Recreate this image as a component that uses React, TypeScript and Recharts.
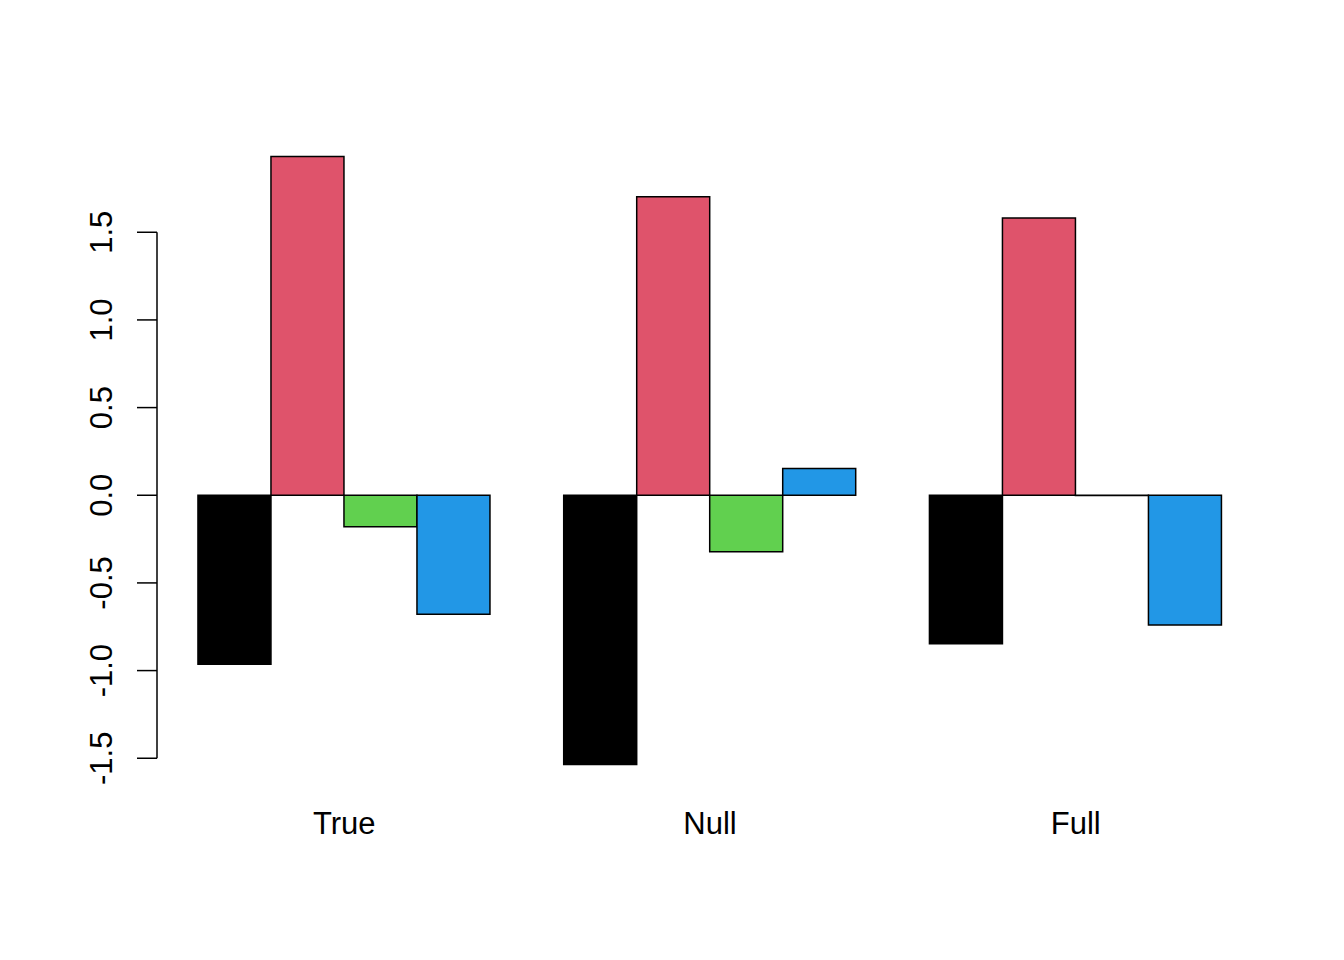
import React from 'react';
import { BarChart, Bar, XAxis, YAxis } from 'recharts';

const categories = ['True', 'Null', 'Full'];
const series1 = [-0.964, -1.535, -0.847];
const series2 = [1.932, 1.703, 1.582];
const series3 = [-0.179, -0.322, -0.002];
const series4 = [-0.679, 0.152, -0.74];
const yTicks = [-1.5, -1.0, -0.5, 0.0, 0.5, 1.0, 1.5];

const colors = ['#000000', '#DF536B', '#61D04F', '#2297E6'];

const data = categories.map((c, i) => ({
  name: c,
  s1: series1[i],
  s2: series2[i],
  s3: series3[i],
  s4: series4[i],
}));

const allVals = [...series1, ...series2, ...series3, ...series4];
const vMin = Math.min(...allVals);
const vMax = Math.max(...allVals);
const ext = (vMax - vMin) * 0.04;
const domain: [number, number] = [vMin - ext, vMax + ext];

const W = 1344;
const H = 960;
const PLOT_LEFT = 157;
const PLOT_RIGHT = 1263;
const PLOT_TOP = 132.2;
const PLOT_BOTTOM = 788.7;
const XAXIS_H = 40;
const PLOT_H = PLOT_BOTTOM - PLOT_TOP;
const PX_PER_UNIT = PLOT_H / (domain[1] - domain[0]);
const PLOT_W = PLOT_RIGHT - PLOT_LEFT;
const UNIT_W = PLOT_W / 15.12; // 15 bar-units plus 4% extension
const EDGE_PAD = 0.06 * UNIT_W;
const FONT = '"Liberation Sans", Arial, Helvetica, sans-serif';
const FS = 31;

const fmt = (v: number) => (v < 0 ? '-' : '') + Math.abs(v).toFixed(1);

const YTick = (props: any) => {
  const { payload } = props;
  const y = payload.coordinate;
  const v = payload.value;
  const isFirst = v === yTicks[0];
  const span = (yTicks[yTicks.length - 1] - yTicks[0]) * PX_PER_UNIT;
  return (
    <g>
      {isFirst && (
        <line x1={PLOT_LEFT} x2={PLOT_LEFT} y1={y} y2={y - span} stroke="#000" strokeWidth={1.5} />
      )}
      <line x1={PLOT_LEFT - 20} x2={PLOT_LEFT} y1={y} y2={y} stroke="#000" strokeWidth={1.5} />
      <text
        x={112}
        y={y}
        transform={`rotate(-90 112 ${y})`}
        textAnchor="middle"
        fontFamily={FONT}
        fontSize={FS}
        fill="#000"
      >
        {fmt(v)}
      </text>
    </g>
  );
};

const XTick = (props: any) => {
  const { x, payload } = props;
  return (
    <text x={x} y={PLOT_BOTTOM + 45} textAnchor="middle" fontFamily={FONT} fontSize={FS} fill="#000">
      {payload.value}
    </text>
  );
};

export default function App() {
  return (
    <div style={{ position: 'absolute', left: 0, top: 0, width: W, height: H, background: '#fff' }}>
      <BarChart
        width={W}
        height={H}
        data={data}
        margin={{ top: PLOT_TOP, right: W - PLOT_RIGHT, left: 0, bottom: H - PLOT_BOTTOM - XAXIS_H }}
        barGap={0}
        barCategoryGap={UNIT_W / 2}
      >
        <XAxis
          dataKey="name"
          height={XAXIS_H}
          axisLine={false}
          tickLine={false}
          padding={{ left: EDGE_PAD, right: EDGE_PAD }}
          tick={<XTick />}
          interval={0}
        />
        <YAxis
          type="number"
          width={PLOT_LEFT}
          domain={domain}
          allowDataOverflow
          ticks={yTicks}
          axisLine={false}
          tickLine={false}
          tick={<YTick />}
          interval={0}
        />
        <Bar dataKey="s1" fill={colors[0]} stroke="#000" strokeWidth={1.5} isAnimationActive={false} />
        <Bar dataKey="s2" fill={colors[1]} stroke="#000" strokeWidth={1.5} isAnimationActive={false} />
        <Bar dataKey="s3" fill={colors[2]} stroke="#000" strokeWidth={1.5} isAnimationActive={false} />
        <Bar dataKey="s4" fill={colors[3]} stroke="#000" strokeWidth={1.5} isAnimationActive={false} />
      </BarChart>
    </div>
  );
}
